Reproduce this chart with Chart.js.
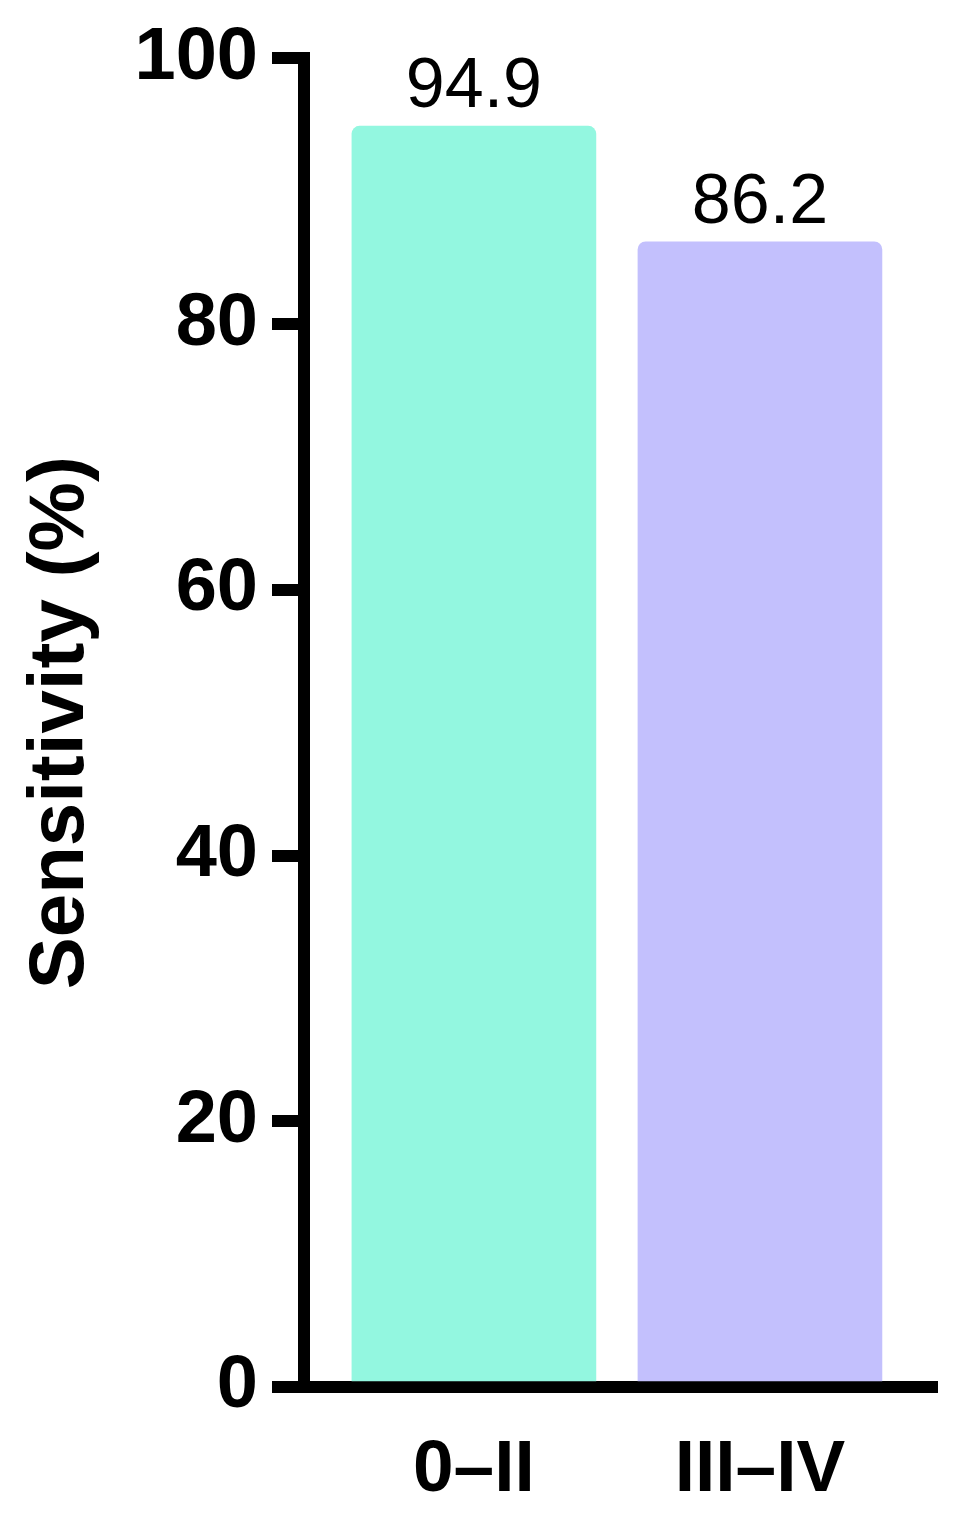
<!DOCTYPE html>
<html>
<head>
<meta charset="utf-8">
<script src="https://cdn.jsdelivr.net/npm/chart.js@4"></script>
<style>
    body { margin: 0; background: #fff; }
    canvas { display: block; }
</style>
</head>
<body>
<canvas id="sensChart" width="958" height="1538"></canvas>
<script>
// Chart data
const categories = ['0–II', 'III–IV'];
const sensitivity = [94.9, 86.2];
const barColors = ['#93F7E0', '#C3C0FD'];
const yTicks = [0, 20, 40, 60, 80, 100];

const FONT = "'Liberation Sans', Arial, Helvetica, sans-serif";

// Value labels above the bars
const valueLabels = {
    id: 'valueLabels',
    afterDatasetsDraw(chart) {
        const ctx = chart.ctx;
        const meta = chart.getDatasetMeta(0);
        ctx.save();
        ctx.fillStyle = '#000';
        ctx.font = '70px ' + FONT;
        ctx.textAlign = 'center';
        ctx.textBaseline = 'alphabetic';
        meta.data.forEach((bar, i) => {
            ctx.fillText(sensitivity[i].toFixed(1), bar.x, bar.y - 19);
        });
        ctx.restore();
    }
};

document.addEventListener('DOMContentLoaded', function() {
    const ctx = document.getElementById('sensChart').getContext('2d');

    new Chart(ctx, {
        type: 'bar',
        data: {
            datasets: [{
                data: categories.map((c, i) => ({ x: i, y: sensitivity[i] })),
                backgroundColor: barColors,
                borderWidth: 0,
                borderRadius: 8,
                borderSkipped: 'start',
                barThickness: 244,
            }]
        },
        options: {
            responsive: false,
            animation: false,
            layout: {
                padding: { top: 57, right: 21, bottom: 0, left: 0 }
            },
            plugins: {
                legend: { display: false },
                tooltip: { enabled: false }
            },
            scales: {
                x: {
                    type: 'linear',
                    min: -0.594,
                    max: 1.619,
                    offset: false,
                    afterBuildTicks: (scale) => {
                        scale.ticks = categories.map((c, i) => ({ value: i }));
                    },
                    afterFit: (scale) => { scale.height = 151; },
                    ticks: {
                        callback: (v) => categories[v],
                        color: '#000',
                        padding: 40,
                        maxRotation: 0,
                        autoSkip: false,
                        font: { family: FONT, size: 73, weight: 'bold' }
                    },
                    grid: { display: false, drawTicks: false, offset: false },
                    border: { display: true, color: '#000', width: 12 }
                },
                y: {
                    min: 0,
                    max: 100,
                    afterBuildTicks: (scale) => {
                        scale.ticks = yTicks.map(v => ({ value: v }));
                    },
                    afterFit: (scale) => { scale.width = 304; },
                    ticks: {
                        color: '#000',
                        padding: 14,
                        font: { family: FONT, size: 74, weight: 'bold' }
                    },
                    grid: {
                        drawOnChartArea: false,
                        drawTicks: true,
                        tickLength: 32,
                        lineWidth: 12,
                        color: '#000'
                    },
                    border: { display: true, color: '#000', width: 12 },
                    title: {
                        display: true,
                        text: 'Sensitivity (%)',
                        color: '#000',
                        padding: { top: 15, bottom: 0 },
                        font: { family: FONT, size: 78, weight: 'bold' }
                    }
                }
            }
        },
        plugins: [valueLabels]
    });
});
</script>
</body>
</html>
